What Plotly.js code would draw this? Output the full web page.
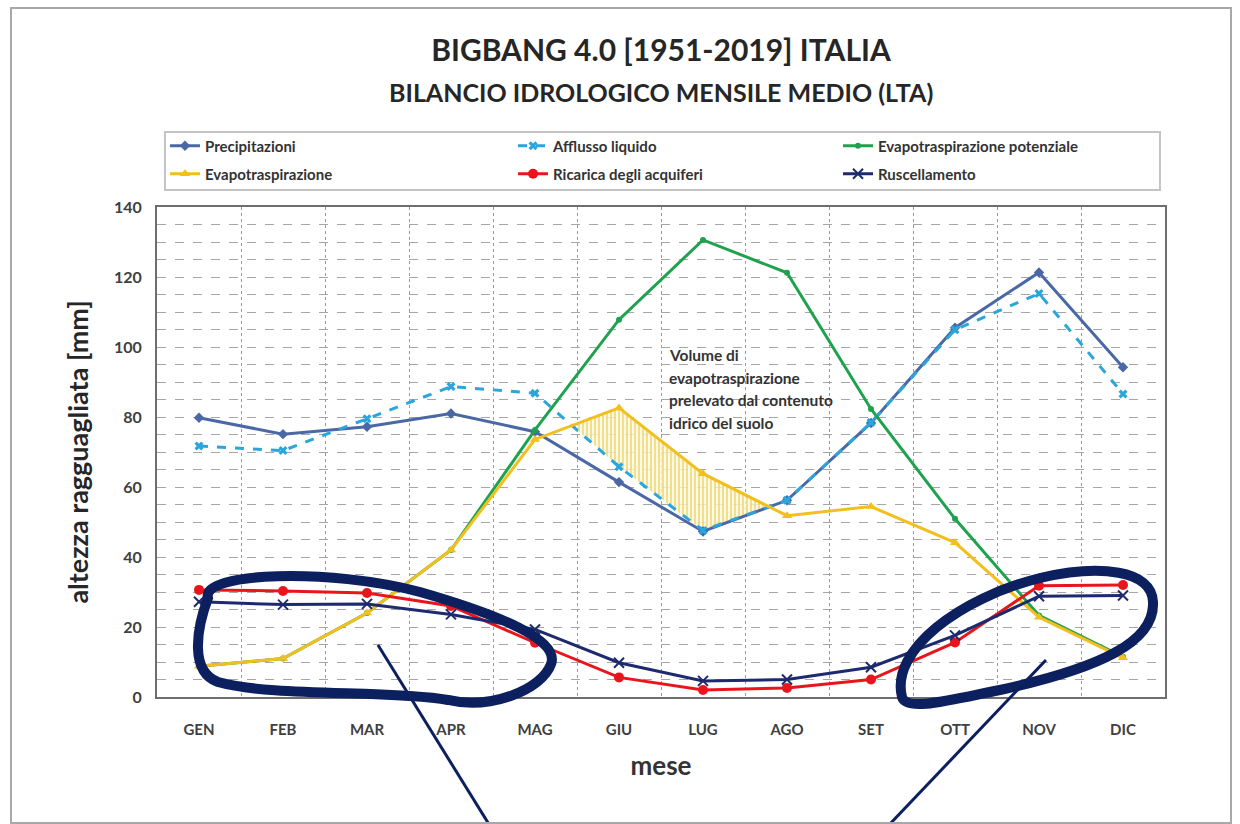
<!DOCTYPE html>
<html>
<head>
<meta charset="utf-8">
<script src="https://cdn.plot.ly/plotly-3.0.1.min.js"></script>
<style>
  html, body { margin: 0; padding: 0; background: #ffffff; }
  #frame { position: absolute; left: 10px; top: 7px; width: 1218px; height: 813px; border: 2px solid #a8a8a8; pointer-events: none; z-index: 5; }
  #chart { position: absolute; left: 0; top: 0; width: 1240px; height: 824px; }
</style>
</head>
<body>
<div id="chart"></div>
<div id="frame"></div>
<script>
// ---- data (mm) ----
const months = ['GEN','FEB','MAR','APR','MAG','GIU','LUG','AGO','SET','OTT','NOV','DIC'];
const precipitazioni = [79.8, 75.1, 77.2, 81.0, 75.8, 61.4, 47.3, 56.2, 78.3, 105.5, 121.3, 94.2];
const afflussoLiquido = [71.7, 70.4, 79.5, 88.7, 86.8, 65.8, 47.6, 56.2, 78.4, 104.9, 115.3, 86.6];
const evapoPotenziale = [8.8, 11.0, 24.0, 42.0, 76.3, 107.8, 130.6, 121.2, 82.3, 50.9, 23.3, 11.5];
const evapotraspirazione = [8.8, 11.0, 24.0, 42.0, 73.6, 82.6, 63.8, 51.8, 54.4, 44.1, 22.8, 11.2];
const ricarica = [30.6, 30.3, 29.7, 26.0, 15.5, 5.6, 2.0, 2.6, 5.0, 15.6, 31.8, 32.0];
const ruscellamento = [27.2, 26.4, 26.6, 23.6, 19.3, 9.8, 4.6, 5.0, 8.5, 17.6, 28.8, 29.0];
const noteLines = ['Volume di', 'evapotraspirazione', 'prelevato dal contenuto', 'idrico del suolo'];

const xs = months.map((m, i) => i);

// hatched area where ET exceeds liquid inflow (MAG..AGO), built from the data
function crossing(i) {
  const d0 = afflussoLiquido[i] - evapotraspirazione[i];
  const d1 = afflussoLiquido[i + 1] - evapotraspirazione[i + 1];
  const t = d0 / (d0 - d1);
  return { x: i + t, y: evapotraspirazione[i] + t * (evapotraspirazione[i + 1] - evapotraspirazione[i]) };
}
const c1 = crossing(4), c2 = crossing(6);
const hatchX = [c1.x, 5, 6, c2.x, 6, 5, c1.x];
const hatchY = [c1.y, evapotraspirazione[5], evapotraspirazione[6], c2.y, afflussoLiquido[6], afflussoLiquido[5], c1.y];

const traces = [
  { x: hatchX, y: hatchY, type: 'scatter', mode: 'lines', fill: 'toself',
    line: { width: 0, color: 'rgba(0,0,0,0)' },
    fillcolor: 'rgba(252,244,212,0.6)',
    fillpattern: { shape: '|', fgcolor: '#eccb4a', bgcolor: 'rgba(253,248,226,0.8)', size: 4, solidity: 0.3 },
    showlegend: false, hoverinfo: 'skip' },
  { x: xs, y: precipitazioni, name: 'Precipitazioni', legend: 'legend', type: 'scatter', mode: 'lines+markers',
    line: { color: '#4b68a6', width: 3 }, marker: { symbol: 'diamond', size: 8, color: '#4b68a6' } },
  { x: xs, y: afflussoLiquido, name: 'Afflusso liquido', legend: 'legend2', type: 'scatter', mode: 'lines+markers',
    line: { color: '#2aa6dc', width: 3, dash: 'dash' }, marker: { symbol: 'x', size: 8, color: '#2aa6dc' } },
  { x: xs, y: evapoPotenziale, name: 'Evapotraspirazione potenziale', legend: 'legend3', type: 'scatter', mode: 'lines+markers',
    line: { color: '#1fa24e', width: 3 }, marker: { symbol: 'circle', size: 6, color: '#1fa24e' } },
  { x: xs, y: evapotraspirazione, name: 'Evapotraspirazione', legend: 'legend4', type: 'scatter', mode: 'lines+markers',
    line: { color: '#f2bf1d', width: 3 }, marker: { symbol: 'triangle-up', size: 9, color: '#f2bf1d' } },
  { x: xs, y: ricarica, name: 'Ricarica degli acquiferi', legend: 'legend5', type: 'scatter', mode: 'lines+markers',
    line: { color: '#e8161c', width: 3 }, marker: { symbol: 'circle', size: 10, color: '#e8161c' } },
  { x: xs, y: ruscellamento, name: 'Ruscellamento', legend: 'legend6', type: 'scatter', mode: 'lines+markers',
    line: { color: '#1e2a6e', width: 3 }, marker: { symbol: 'x-thin-open', size: 10, color: '#1e2a6e', line: { width: 2, color: '#1e2a6e' } } }
];

// pixel helpers for layout placement (plot area 157..1165 x 207..697)
const PL = 157, PR = 1165, PT = 207, PB = 697;
const px = v => +((v - PL) / (PR - PL)).toFixed(4);
const py = v => +((PB - v) / (PB - PT)).toFixed(4);
function path(cmds) {
  return cmds.map(c => c[0] + ' ' + c.slice(1).map((v, k) => (k % 2 === 0 ? px(v) : py(v))).join(',')).join(' ');
}
const leftLoop = path([
  ['M', 208, 598], ['C', 200, 572, 330, 568, 420, 592], ['C', 500, 615, 560, 640, 551, 664],
  ['C', 542, 690, 490, 710, 448, 700], ['C', 390, 690, 270, 697, 218, 682], ['C', 190, 672, 196, 630, 208, 598]
]) + ' Z';
const rightLoop = path([
  ['M', 902, 697], ['C', 890, 650, 960, 598, 1040, 578], ['C', 1100, 564, 1152, 570, 1153, 602],
  ['C', 1155, 642, 1100, 668, 1000, 690], ['C', 950, 700, 906, 712, 902, 697]
]) + ' Z';
const navy = '#0c1f5e';
const shapes = [
  { type: 'rect', xref: 'paper', yref: 'paper', x0: px(165), y0: py(132), x1: px(1160), y1: py(190), line: { color: '#c4c4c4', width: 2 }, fillcolor: 'rgba(0,0,0,0)', layer: 'above' },
  { type: 'path', xref: 'paper', yref: 'paper', path: leftLoop, line: { color: navy, width: 10 }, layer: 'above' },
  { type: 'path', xref: 'paper', yref: 'paper', path: rightLoop, line: { color: navy, width: 10 }, layer: 'above' },
  { type: 'line', xref: 'paper', yref: 'paper', x0: px(378), y0: py(645), x1: px(490), y1: py(826), line: { color: navy, width: 3 }, layer: 'above' },
  { type: 'line', xref: 'paper', yref: 'paper', x0: px(1046), y0: py(660), x1: px(888), y1: py(826), line: { color: navy, width: 3 }, layer: 'above' }
];

const FONT = 'Lato, "Open Sans", "DejaVu Sans", sans-serif';
const annotations = [
  { xref: 'paper', yref: 'paper', x: 0.5, y: py(92), xanchor: 'center', yanchor: 'middle', showarrow: false,
    text: 'BILANCIO IDROLOGICO MENSILE MEDIO (LTA)', font: { family: FONT, size: 25, color: '#262626', weight: 'bold' } }
];
noteLines.forEach((t, i) => {
  annotations.push({ xref: 'x', yref: 'paper', x: 5.57, y: py(355 + i * 22.7), xanchor: 'left', yanchor: 'middle',
    showarrow: false, text: t, font: { family: FONT, size: 15.5, color: '#333333', weight: 'bold' } });
});

// legend grid: 3 columns x 2 rows
const legendCols = [165, 513, 838];
const legendRows = [146, 174];
function legendAt(col, row) {
  return {
    orientation: 'v', xanchor: 'left', yanchor: 'middle',
    x: px(legendCols[col]), y: py(legendRows[row]), itemwidth: 30,
    borderwidth: 0, bgcolor: 'rgba(0,0,0,0)',
    font: { family: FONT, size: 15, color: '#333333', weight: 'bold' }
  };
}

const layout = {
  width: 1240, height: 824,
  margin: { l: PL, r: 1240 - PR, t: PT, b: 824 - PB },
  paper_bgcolor: '#ffffff', plot_bgcolor: '#ffffff',
  font: { family: FONT, color: '#404040' },
  title: { text: 'BIGBANG 4.0 [1951-2019] ITALIA', x: 0.5, xref: 'paper', xanchor: 'center', y: 1 - 50 / 824, yanchor: 'middle', yref: 'container',
    font: { family: FONT, size: 30, color: '#262626', weight: 'bold' } },
  showlegend: true,
  legend: legendAt(0, 0),
  legend2: legendAt(1, 0),
  legend3: legendAt(2, 0),
  legend4: legendAt(0, 1),
  legend5: legendAt(1, 1),
  legend6: legendAt(2, 1),
  xaxis: {
    range: [-0.5, 11.5], tickmode: 'array', tickvals: xs, ticktext: months,
    showgrid: false, zeroline: false, ticks: '', ticklabelstandoff: 18,
    tickfont: { family: FONT, size: 15, color: '#404040', weight: 'bold' },
    showline: true, mirror: true, linecolor: '#6e6e6e', linewidth: 2,
    minor: { tick0: 0.5, dtick: 1, showgrid: true, gridcolor: '#9a9a9a', griddash: 'dot', gridwidth: 1, ticks: '' },
    title: { text: 'mese', standoff: 20, font: { family: FONT, size: 26, color: '#333333', weight: 'bold' } }
  },
  yaxis: {
    range: [0, 140], dtick: 20, tick0: 0,
    showgrid: true, gridcolor: '#a6a6a6', griddash: 'dash', gridwidth: 1, zeroline: false,
    minor: { dtick: 5, showgrid: true, gridcolor: '#a6a6a6', griddash: 'dash', gridwidth: 1, ticks: '' },
    ticks: '', ticklabelstandoff: 10,
    tickfont: { family: FONT, size: 16, color: '#404040', weight: 'bold' },
    showline: true, mirror: true, linecolor: '#6e6e6e', linewidth: 2,
    title: { text: 'altezza ragguagliata [mm]', standoff: 18, font: { family: FONT, size: 27, color: '#262626', weight: 'bold' } }
  },
  shapes: shapes,
  annotations: annotations
};

Plotly.newPlot('chart', traces, layout, { displayModeBar: false, staticPlot: true });
</script>
</body>
</html>
